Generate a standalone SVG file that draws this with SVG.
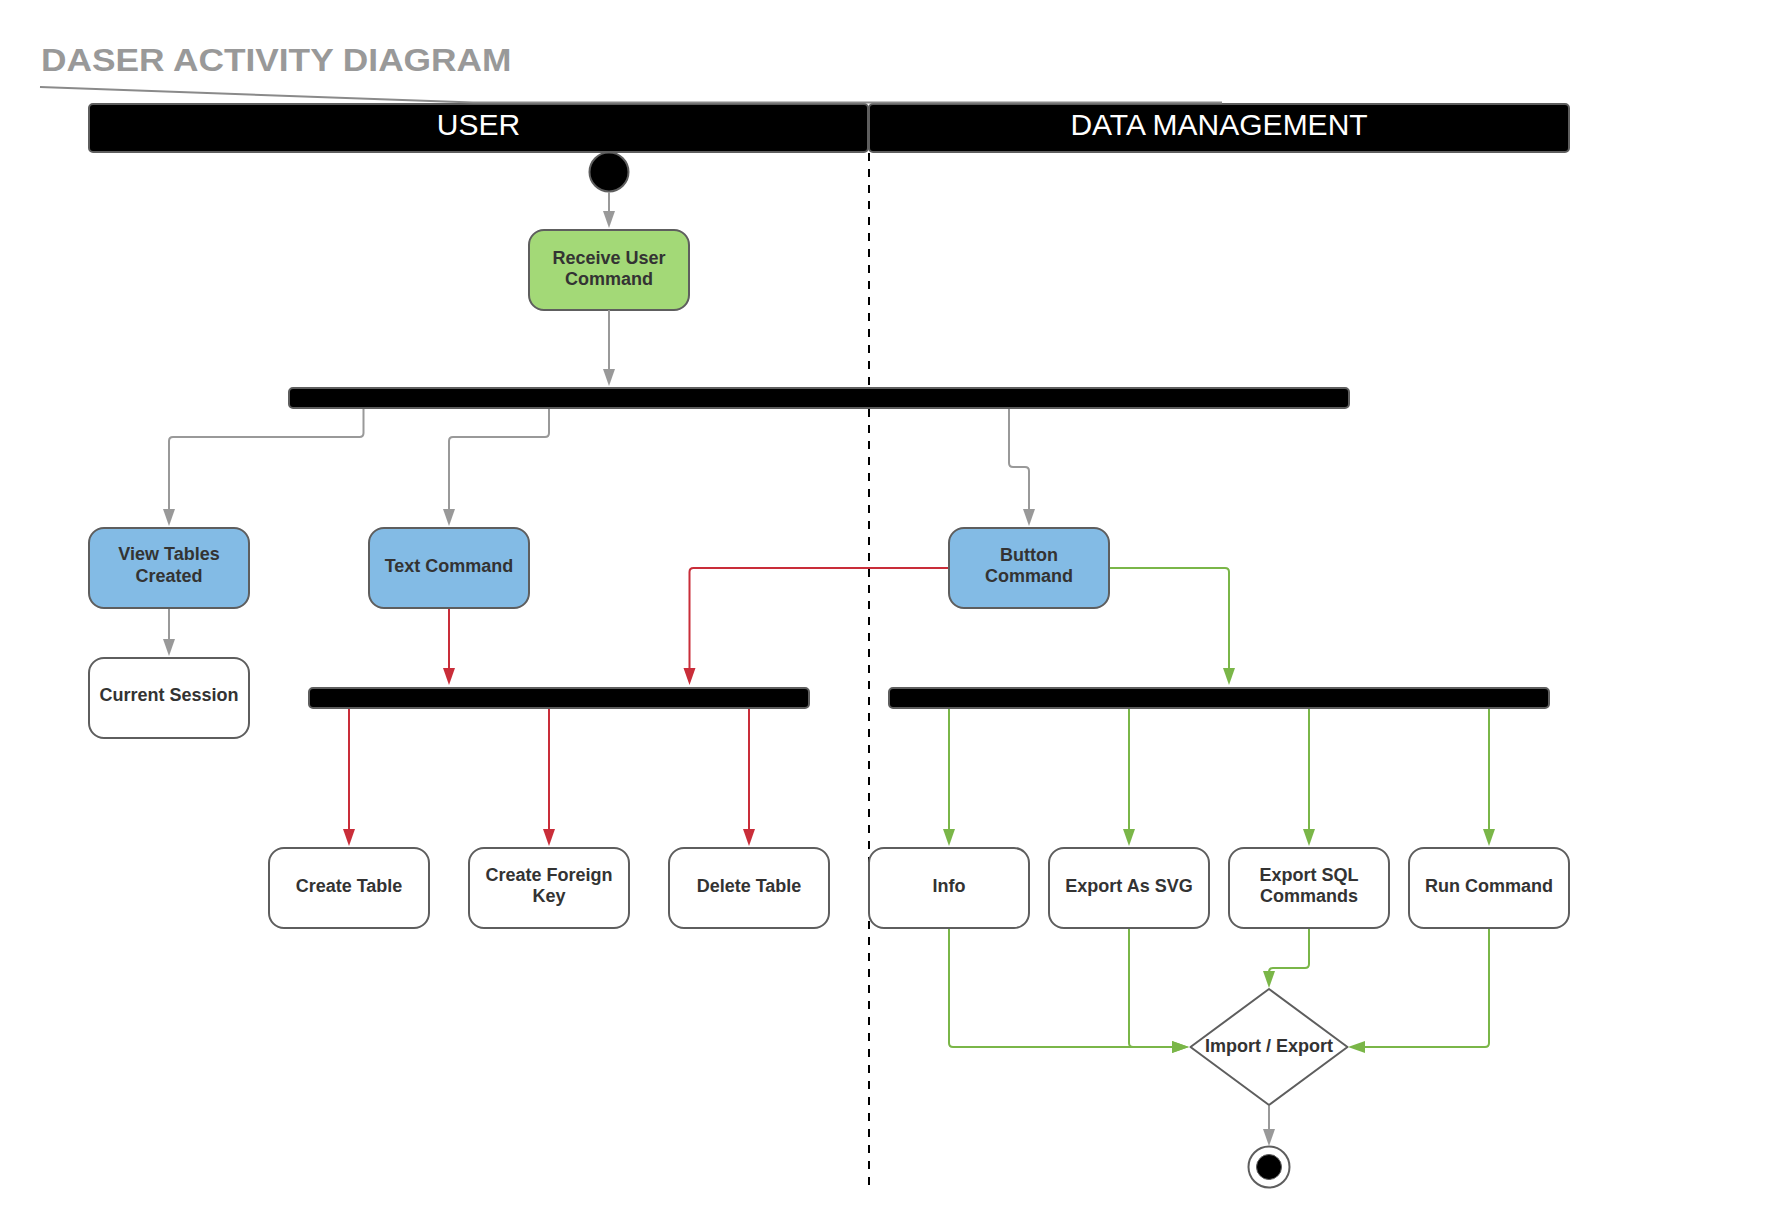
<svg xmlns="http://www.w3.org/2000/svg" width="1777" height="1228" viewBox="0 0 1777 1228">
<style>
.title{font-family:"Liberation Sans",Arial,sans-serif;font-weight:bold;font-size:32px;fill:#999999}
.lane{fill:#000000;stroke:#5e5e5e;stroke-width:2}
.laneText{font-family:"Liberation Sans",Arial,sans-serif;font-size:30px;fill:#ffffff;text-anchor:middle}
.box{stroke:#5e5e5e;stroke-width:2}
.white{fill:#ffffff}
.green{fill:#a3d977}
.blue{fill:#83bbe5}
.bar{fill:#000000;stroke:#5e5e5e;stroke-width:2}
.lbl{font-family:"Liberation Sans",Arial,sans-serif;font-weight:bold;font-size:18px;fill:#333333;text-anchor:middle}
.c{fill:none;stroke-width:2}
.gray{stroke:#999999}
.red{stroke:#c92d39}
.grn{stroke:#7ab648}
</style>
<defs>
<marker id="ag" markerUnits="userSpaceOnUse" markerWidth="17" markerHeight="12" refX="7" refY="6" orient="auto" overflow="visible"><path d="M0,0 L17,6 L0,12 z" fill="#999999"/></marker>
<marker id="ar" markerUnits="userSpaceOnUse" markerWidth="17" markerHeight="12" refX="7" refY="6" orient="auto" overflow="visible"><path d="M0,0 L17,6 L0,12 z" fill="#c92d39"/></marker>
<marker id="an" markerUnits="userSpaceOnUse" markerWidth="17" markerHeight="12" refX="7" refY="6" orient="auto" overflow="visible"><path d="M0,0 L17,6 L0,12 z" fill="#7ab648"/></marker>
</defs>
<rect x="0" y="0" width="1777" height="1228" fill="#ffffff"/>
<g id="title">
<text class="title" transform="translate(41,71) scale(1.103,1)" x="0" y="0">DASER ACTIVITY DIAGRAM</text>
</g>
<g id="lanes">
<rect class="lane" x="89" y="104" width="779" height="48" rx="4"/>
<rect class="lane" x="869" y="104" width="700" height="48" rx="4"/>
<polyline points="40,87 473,102.5 1222,102.5" fill="none" stroke="#8a8a8a" stroke-width="2"/>
<text class="laneText" x="478.5" y="135">USER</text>
<text class="laneText" x="1219" y="135">DATA MANAGEMENT</text>
<line x1="869" y1="153" x2="869" y2="1188" stroke="#000000" stroke-width="2" stroke-dasharray="8,8"/>
</g>
<g id="start"><circle cx="609" cy="172" r="19.5" fill="#000000" stroke="#5e5e5e" stroke-width="2"/></g>
<g id="receive">
<rect class="box green" x="529" y="230" width="160" height="80" rx="15"/>
<text class="lbl" x="609" y="263.5">Receive User</text>
<text class="lbl" x="609" y="284.5">Command</text>
</g>
<g id="fork1"><rect class="bar" x="289" y="388" width="1060" height="20" rx="4"/></g>
<g id="viewTables">
<rect class="box blue" x="89" y="528" width="160" height="80" rx="15"/>
<text class="lbl" x="169" y="560">View Tables</text>
<text class="lbl" x="169" y="581.5">Created</text>
</g>
<g id="textCommand">
<rect class="box blue" x="369" y="528" width="160" height="80" rx="15"/>
<text class="lbl" x="449" y="571.5">Text Command</text>
</g>
<g id="buttonCommand">
<rect class="box blue" x="949" y="528" width="160" height="80" rx="15"/>
<text class="lbl" x="1029" y="560.5">Button</text>
<text class="lbl" x="1029" y="581.5">Command</text>
</g>
<g id="currentSession">
<rect class="box white" x="89" y="658" width="160" height="80" rx="15"/>
<text class="lbl" x="169" y="700.5">Current Session</text>
</g>
<g id="fork2"><rect class="bar" x="309" y="688" width="500" height="20" rx="4"/></g>
<g id="fork3"><rect class="bar" x="889" y="688" width="660" height="20" rx="4"/></g>
<g id="createTable">
<rect class="box white" x="269" y="848" width="160" height="80" rx="15"/>
<text class="lbl" x="349" y="891.5">Create Table</text>
</g>
<g id="createForeignKey">
<rect class="box white" x="469" y="848" width="160" height="80" rx="15"/>
<text class="lbl" x="549" y="880.5">Create Foreign</text>
<text class="lbl" x="549" y="901.5">Key</text>
</g>
<g id="deleteTable">
<rect class="box white" x="669" y="848" width="160" height="80" rx="15"/>
<text class="lbl" x="749" y="891.5">Delete Table</text>
</g>
<g id="info">
<rect class="box white" x="869" y="848" width="160" height="80" rx="15"/>
<text class="lbl" x="949" y="891.5">Info</text>
</g>
<g id="exportSvg">
<rect class="box white" x="1049" y="848" width="160" height="80" rx="15"/>
<text class="lbl" x="1129" y="891.5">Export As SVG</text>
</g>
<g id="exportSql">
<rect class="box white" x="1229" y="848" width="160" height="80" rx="15"/>
<text class="lbl" x="1309" y="880.5">Export SQL</text>
<text class="lbl" x="1309" y="901.5">Commands</text>
</g>
<g id="runCommand">
<rect class="box white" x="1409" y="848" width="160" height="80" rx="15"/>
<text class="lbl" x="1489" y="891.5">Run Command</text>
</g>
<g id="importExport">
<polygon points="1269,989 1347.5,1047 1269,1105 1190.5,1047" fill="#ffffff" stroke="#5e5e5e" stroke-width="2" stroke-linejoin="round"/>
<text class="lbl" x="1269" y="1051.5">Import / Export</text>
</g>
<g id="end">
<circle cx="1269" cy="1167" r="20.5" fill="#ffffff" stroke="#5e5e5e" stroke-width="2"/>
<circle cx="1269" cy="1167" r="12.5" fill="#000000" stroke="#5e5e5e" stroke-width="1"/>
</g>
<g id="connectors">
<path class="c gray" marker-end="url(#ag)" d="M609,192 V218"/>
<path class="c gray" marker-end="url(#ag)" d="M609,310 V376"/>
<path class="c gray" marker-end="url(#ag)" d="M363.5,409 V433 Q363.5,437 359.5,437 H173 Q169,437 169,441 V516"/>
<path class="c gray" marker-end="url(#ag)" d="M549,409 V433 Q549,437 545,437 H453 Q449,437 449,441 V516"/>
<path class="c gray" marker-end="url(#ag)" d="M1009,409 V463 Q1009,467 1013,467 H1025 Q1029,467 1029,471 V516"/>
<path class="c gray" marker-end="url(#ag)" d="M169,609 V646"/>
<path class="c red" marker-end="url(#ar)" d="M449,609 V675"/>
<path class="c red" marker-end="url(#ar)" d="M948,568 H693.5 Q689.5,568 689.5,572 V675"/>
<path class="c grn" marker-end="url(#an)" d="M1110,568 H1225 Q1229,568 1229,572 V675"/>
<path class="c red" marker-end="url(#ar)" d="M349,709 V836"/>
<path class="c red" marker-end="url(#ar)" d="M549,709 V836"/>
<path class="c red" marker-end="url(#ar)" d="M749,709 V836"/>
<path class="c grn" marker-end="url(#an)" d="M949,709 V836"/>
<path class="c grn" marker-end="url(#an)" d="M1129,709 V836"/>
<path class="c grn" marker-end="url(#an)" d="M1309,709 V836"/>
<path class="c grn" marker-end="url(#an)" d="M1489,709 V836"/>
<path class="c grn" marker-end="url(#an)" d="M949,929 V1043 Q949,1047 953,1047 H1179"/>
<path class="c grn" marker-end="url(#an)" d="M1129,929 V1043 Q1129,1047 1133,1047 H1179"/>
<path class="c grn" marker-end="url(#an)" d="M1309,929 V964 Q1309,968 1305,968 H1273 Q1269,968 1269,972 V978"/>
<path class="c grn" marker-end="url(#an)" d="M1489,929 V1043 Q1489,1047 1485,1047 H1358"/>
<path class="c gray" marker-end="url(#ag)" d="M1269,1106 V1136"/>
</g>
</svg>
